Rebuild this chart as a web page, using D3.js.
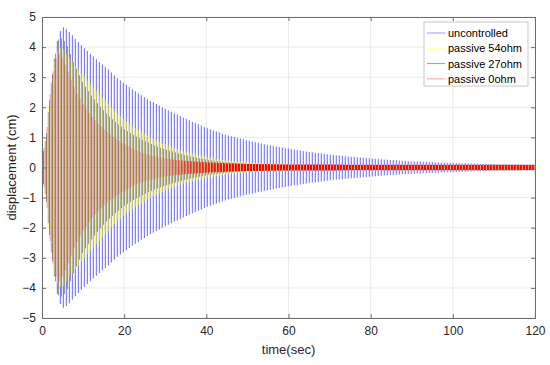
<!DOCTYPE html>
<html><head><meta charset="utf-8">
<script src="https://cdn.jsdelivr.net/npm/d3@7"></script>
<style>
body{margin:0;background:#fff;}
svg{display:block;font-family:"Liberation Sans",Arial,sans-serif;}
</style></head>
<body>
<svg id="chart" width="550" height="365"></svg>
<script>
// ---- data ----
const envTime = [0,1,2,3,4,5,6,8,10,12,14,16,18,20,22,24,26,28,30,32,35,40,45,50,55,60,65,70,75,80,85,90,95,100,105,110,115,120];
const uncontrolled = [0.3,1.0,2.5,3.6,4.4,4.68,4.6,4.3,4.0,3.75,3.5,3.28,3.0,2.8,2.6,2.42,2.25,2.1,1.95,1.82,1.62,1.32,1.08,0.9,0.75,0.63,0.52,0.43,0.36,0.3,0.25,0.21,0.18,0.15,0.13,0.11,0.1,0.09];
const passive54 = [0.3,1.0,2.5,3.5,3.9,4.0,3.8,3.4,3.1,2.75,2.45,2.15,1.85,1.6,1.4,1.2,1.05,0.9,0.78,0.66,0.52,0.35,0.24,0.17,0.12,0.1,0.08,0.07,0.06,0.06,0.05,0.05,0.05,0.05,0.05,0.05,0.05,0.05];
const passive27 = [0.3,1.0,2.5,3.6,4.25,4.3,4.1,3.4,2.8,2.4,2.05,1.75,1.5,1.28,1.1,0.95,0.82,0.7,0.6,0.52,0.4,0.26,0.17,0.11,0.08,0.06,0.05,0.05,0.04,0.04,0.04,0.04,0.04,0.04,0.04,0.04,0.04,0.04];
const passive0 = [0.3,1.0,2.5,3.5,3.8,3.6,3.3,2.6,2.1,1.7,1.4,1.15,0.95,0.78,0.62,0.5,0.42,0.35,0.3,0.26,0.22,0.17,0.14,0.12,0.11,0.1,0.1,0.1,0.09,0.09,0.09,0.09,0.09,0.09,0.09,0.09,0.09,0.09];
const seriesNames = ["uncontrolled","passive 54ohm","passive 27ohm","passive 0ohm"];
const seriesColors = ["#0000ff","#ffff00","#000000","#ff0000"];
const xTicks = [0,20,40,60,80,100,120];
const yTicks = [-5,-4,-3,-2,-1,0,1,2,3,4,5];
const cyclePeriod = 0.73;          // seconds between visible oscillation strokes
const phaseOffsets = [0, 0.18, 0.36, 0.55];

// ---- layout ----
const W = 550, H = 365;
const mg = {left:42, right:15, top:17, bottom:47};
const pw = W - mg.left - mg.right, ph = H - mg.top - mg.bottom;
const svg = d3.select("#chart");
const x = d3.scaleLinear().domain([0,120]).range([mg.left, mg.left+pw]);
const y = d3.scaleLinear().domain([-5,5]).range([mg.top+ph, mg.top]);

svg.append("defs").append("clipPath").attr("id","clip")
  .append("rect").attr("x",mg.left).attr("y",mg.top).attr("width",pw).attr("height",ph);

// grid
const gridG = svg.append("g");
gridG.selectAll(".gx").data(xTicks).join("line")
  .attr("x1",d=>x(d)).attr("x2",d=>x(d)).attr("y1",mg.top).attr("y2",mg.top+ph)
  .attr("stroke","#ebebeb").attr("stroke-width",1);
gridG.selectAll(".gy").data(yTicks).join("line")
  .attr("y1",d=>y(d)).attr("y2",d=>y(d)).attr("x1",mg.left).attr("x2",mg.left+pw)
  .attr("stroke","#ebebeb").attr("stroke-width",1);

// series
const allEnv = [uncontrolled, passive54, passive27, passive0];
const widths = [1.2, 1.3, 1.0, 2.0];
const plotG = svg.append("g").attr("clip-path","url(#clip)");
allEnv.forEach((env, si) => {
  const amp = d3.scaleLinear().domain(envTime).range(env).clamp(true);
  const times = d3.range(phaseOffsets[si]*cyclePeriod + 0.1, 120, cyclePeriod);
  const grp = plotG.append("g");
  const opac = si === 3
    ? d3.scaleLinear().domain([0.12, 0.3]).range([1, 0.2]).clamp(true)
    : (si === 0 ? () => 0.5 : si === 1 ? () => 0.65 : () => 0.4);
  grp.selectAll("line").data(times).join("line")
    .attr("x1", t => x(t)).attr("x2", t => x(t))
    .attr("y1", t => y(amp(t))).attr("y2", t => y(-amp(t)))
    .attr("stroke", seriesColors[si])
    .attr("stroke-width", widths[si])
    .attr("stroke-opacity", t => opac(amp(t)));
});

// axes
const axisColor = "#262626";
const axB = svg.append("g").attr("transform",`translate(0,${mg.top+ph})`)
  .call(d3.axisBottom(x).tickValues(xTicks).tickSize(-4).tickPadding(8));
const axT = svg.append("g").attr("transform",`translate(0,${mg.top})`)
  .call(d3.axisTop(x).tickValues(xTicks).tickSize(-4).tickFormat(""));
const axL = svg.append("g").attr("transform",`translate(${mg.left},0)`)
  .call(d3.axisLeft(y).tickValues(yTicks).tickSize(-4).tickPadding(6));
const axR = svg.append("g").attr("transform",`translate(${mg.left+pw},0)`)
  .call(d3.axisRight(y).tickValues(yTicks).tickSize(-4).tickFormat(""));
[axB, axT, axL, axR].forEach(a => {
  a.selectAll("path.domain").attr("stroke","#6e6e6e");
  a.selectAll(".tick line").attr("stroke","#6e6e6e");
  a.selectAll("text").attr("font-size",12).attr("fill",axisColor)
    .attr("font-family","'Liberation Sans',Arial,sans-serif");
});

svg.append("text").attr("x", mg.left+pw/2).attr("y", 354).attr("text-anchor","middle")
  .attr("font-size",13).attr("fill",axisColor).text("time(sec)");
svg.append("text").attr("transform",`translate(16,${mg.top+ph/2}) rotate(-90)`)
  .attr("text-anchor","middle").attr("font-size",13).attr("fill",axisColor)
  .text("displacement (cm)");

// legend
const lg = svg.append("g").attr("transform","translate(424,22)");
lg.append("rect").attr("width",104).attr("height",64).attr("fill","#fff").attr("stroke","#c8c8c8");
seriesNames.forEach((n,i) => {
  const yy = 11 + i*15.3;
  lg.append("line").attr("x1",3).attr("x2",21).attr("y1",yy).attr("y2",yy)
    .attr("stroke",seriesColors[i]).attr("stroke-opacity",0.4).attr("stroke-width",1);
  lg.append("text").attr("x",24).attr("y",yy+4).attr("font-size",11).attr("fill","#000").text(n);
});
</script>
</body></html>
